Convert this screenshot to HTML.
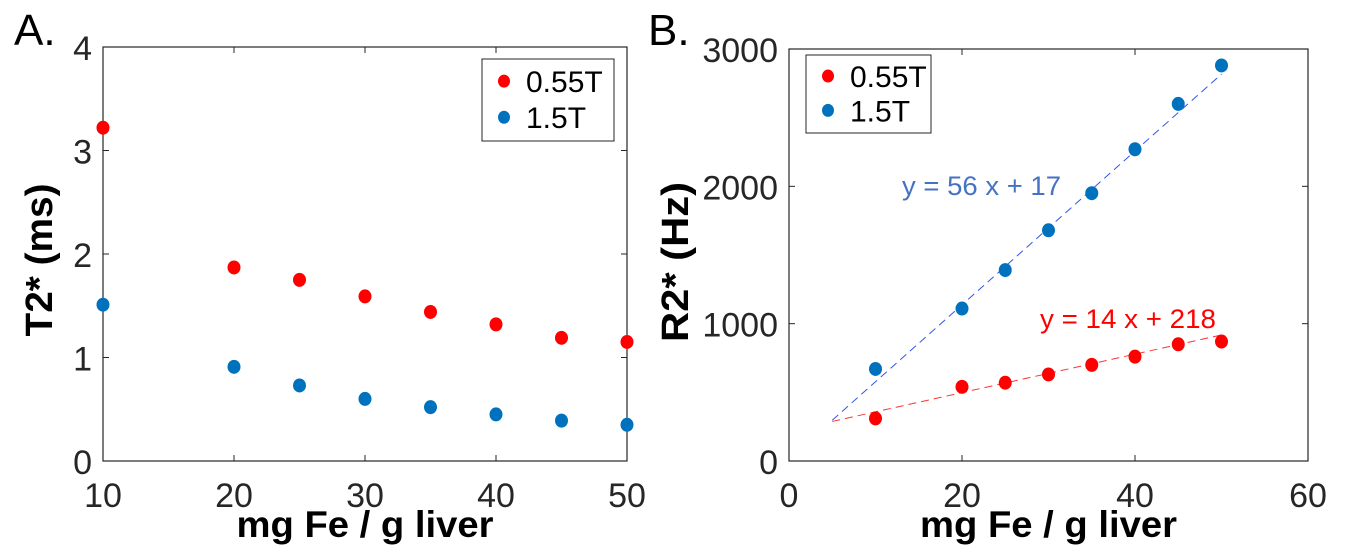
<!DOCTYPE html>
<html><head><meta charset="utf-8"><style>
body{margin:0;background:#fff;width:1345px;height:554px;overflow:hidden}
svg{display:block;font-family:"Liberation Sans",sans-serif}
</style></head><body>
<svg id="fig" width="1345" height="554" viewBox="0 0 1345 554"></svg>
<script>
const xCats=[10,20,25,30,35,40,45,50];
const t2Red=[3.22,1.87,1.75,1.59,1.44,1.32,1.19,1.15];
const t2Blue=[1.51,0.91,0.73,0.60,0.52,0.45,0.39,0.35];
const r2Red=[310,540,570,630,700,760,850,870];
const r2Blue=[670,1110,1390,1680,1950,2270,2600,2880];
const fitBlue=[56,17];
const fitRed=[14,218];
const fitRange=[5,50];
const aXTicks=[10,20,30,40,50];
const aYTicks=[0,1,2,3,4];
const bXTicks=[0,20,40,60];
const bYTicks=[0,1000,2000,3000];
const NS="http://www.w3.org/2000/svg";
const svg=document.getElementById('fig');
function mk(tag,attrs,parent,text){const e=document.createElementNS(NS,tag);for(const k in attrs)e.setAttribute(k,attrs[k]);if(text!==undefined)e.textContent=text;(parent||svg).appendChild(e);return e;}
function panel(o){
  const g=mk('g',{});
  
  
  const sx=v=>o.x0+(v-o.xmin)/(o.xmax-o.xmin)*(o.x1-o.x0);
  const sy=v=>o.y1-(v-o.ymin)/(o.ymax-o.ymin)*(o.y1-o.y0);
  const box=mk('rect',{x:o.x0,y:o.y0,width:o.x1-o.x0,height:o.y1-o.y0,fill:'none',stroke:'#262626','stroke-width':1.2},g);
  
  
  o.xt.forEach(v=>{const x=sx(v);
    mk('line',{x1:x,x2:x,y1:o.y1,y2:o.y1-6,stroke:'#262626'},g);
    mk('line',{x1:x,x2:x,y1:o.y0,y2:o.y0+6,stroke:'#262626'},g);
    const t=mk('text',{x:x,y:o.y1+46,'text-anchor':'middle','font-size':34,fill:'#262626'},g,v);
    
    });
  o.yt.forEach(v=>{const y=sy(v);
    mk('line',{x1:o.x0,x2:o.x0+6,y1:y,y2:y,stroke:'#262626'},g);
    mk('line',{x1:o.x1,x2:o.x1-6,y1:y,y2:y,stroke:'#262626'},g);
    const t=mk('text',{x:o.x0-11,y:y+13,'text-anchor':'end','font-size':34,fill:'#262626'},g,v);
    
    });
  const xl=mk('text',{x:(o.x0+o.x1)/2,y:537,'text-anchor':'middle','font-size':37,'font-weight':'bold',fill:'#000',textLength:257,lengthAdjust:'spacingAndGlyphs'},g,'mg Fe / g liver');
  
  
  const cy=o.ycy;
  const yl=mk('text',{x:o.ytx,y:cy,'text-anchor':'middle','font-size':38,'font-weight':'bold',fill:'#000',textLength:o.ylen,lengthAdjust:'spacingAndGlyphs',transform:`rotate(-90 ${o.ytx} ${cy})`},g,o.ytitle);
  
  
  const pl=mk('text',{x:o.lblx,y:45,'font-size':44,fill:'#000'},g,o.label);
  
  
  if(o.fits){o.fits.forEach(f=>{
    const l=mk('line',{x1:sx(fitRange[0]),y1:sy(f.c[0]*fitRange[0]+f.c[1]),x2:sx(fitRange[1]),y2:sy(f.c[0]*fitRange[1]+f.c[1]),stroke:f.col,'stroke-width':1,'stroke-dasharray':'8,5'},g);
    
    });}
  o.series.forEach(s=>{s.vals.forEach((v,i)=>{
    const c=mk('ellipse',{cx:sx(xCats[i]),cy:sy(v),rx:6.5,ry:7,fill:s.col},g);
    
    });});
  const L=o.leg;
  const lg=mk('g',{},g);
  
  
  mk('rect',{x:L[0],y:L[1],width:L[2],height:L[3],fill:'#fff',stroke:'#262626','stroke-width':1},lg);
  o.series.forEach((s,i)=>{const yy=L[1]+L[3]*(i===0?0.27:0.71);
    mk('ellipse',{cx:L[0]+22,cy:yy,rx:6,ry:6.5,fill:s.col},lg);
    const t=mk('text',{x:L[0]+44,y:yy+11,'font-size':30,fill:'#000'},lg,s.label);
    
    });
  return {g,sx,sy};
}
panel({name:'panel-a',x0:103,x1:627,y0:47,y1:461,xmin:10,xmax:50,ymin:0,ymax:4,xt:aXTicks,yt:aYTicks,ytitle:'T2* (ms)',ytx:52,ycy:260,ylen:153,label:'A.',lblx:14,
  leg:[482,59,132,82],
  series:[{name:'t2-055t',col:'#ff0000',vals:t2Red,label:'0.55T'},{name:'t2-15t',col:'#0072bd',vals:t2Blue,label:'1.5T'}]});
const pb=panel({name:'panel-b',x0:789,x1:1308,y0:49,y1:461,xmin:0,xmax:60,ymin:0,ymax:3000,xt:bXTicks,yt:bYTicks,ytitle:'R2* (Hz)',ytx:688,ycy:262,ylen:160,label:'B.',lblx:648,
  leg:[806,55,125,78],
  fits:[{c:fitBlue,col:'#3355ee',name:'fit-line-15t'},{c:fitRed,col:'#ff3333',name:'fit-line-055t'}],
  series:[{name:'r2-055t',col:'#ff0000',vals:r2Red,label:'0.55T'},{name:'r2-15t',col:'#0072bd',vals:r2Blue,label:'1.5T'}]});
const e1=mk('text',{x:902,y:195,'font-size':27,fill:'#4472c4',textLength:159,lengthAdjust:'spacingAndGlyphs'},pb.g,'y = 56 x + 17');


const e2=mk('text',{x:1040,y:328,'font-size':27,fill:'#ff0000',textLength:176,lengthAdjust:'spacingAndGlyphs'},pb.g,'y = 14 x + 218');


</script>
</body></html>
